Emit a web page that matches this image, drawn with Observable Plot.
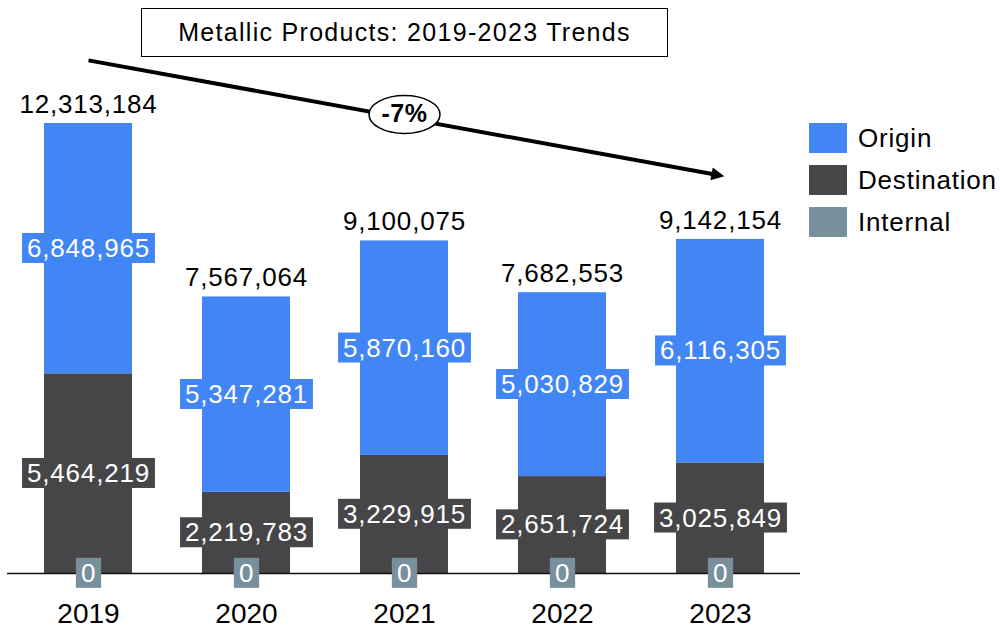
<!DOCTYPE html>
<html>
<head>
<meta charset="utf-8">
<script src="https://cdn.jsdelivr.net/npm/d3@7"></script>
<script src="https://cdn.jsdelivr.net/npm/@observablehq/plot@0.6"></script>
<style>
  html, body { margin: 0; padding: 0; background: #fff; }
  body { font-family: "Liberation Sans", Arial, sans-serif; }
  #wrap { position: relative; width: 1000px; height: 631px; overflow: hidden; }
  #chart { position: absolute; left: 0; top: 0; }
  #title {
    position: absolute; left: 141px; top: 8px; width: 527px; height: 49px;
    box-sizing: border-box; border: 1.5px solid #000; background: #fff;
    display: flex; align-items: center; justify-content: center;
    font-size: 25px; letter-spacing: 1.3px; color: #000; z-index: 2;
  }
  #legend { position: absolute; left: 809px; top: 123px; }
  .item { display: flex; align-items: center; height: 30px; margin-bottom: 12px;
          font-size: 26px; letter-spacing: 0.8px; color: #000; }
  .sw { width: 38px; height: 30px; margin-right: 11px; flex: none; }
</style>
</head>
<body>
<div id="wrap">
  <div id="chart"></div>
  <div id="title"></div>
  <div id="legend"></div>
</div>
<script>
// ---- data ----
const titleText = "Metallic Products: 2019-2023 Trends";
const years = ["2019", "2020", "2021", "2022", "2023"];
const series = ["Origin", "Destination", "Internal"];
const seriesColors = ["#4285F4", "#464648", "#78909C"];
const origin = [6848965, 5347281, 5870160, 5030829, 6116305];
const destination = [5464219, 2219783, 3229915, 2651724, 3025849];
const internal = [0, 0, 0, 0, 0];
// trend annotation (CAGR 2019 -> 2023)
const trendText = "-7%";
const trendStart = {year: "2019", value: 14040000};
const trendEnd = {year: "2023", value: 10890000};
const trendLabelAt = {year: "2021", value: 12560000};

// ---- derived table ----
const fmt = d3.format(",");
const totals = years.map((y, i) => origin[i] + destination[i] + internal[i]);
const rows = [];
years.forEach((year, i) => {
  // stack order from the baseline: Internal, Destination, Origin
  let base = 0;
  [["Internal", internal[i]], ["Destination", destination[i]], ["Origin", origin[i]]].forEach(([s, v]) => {
    rows.push({year, series: s, value: v, y1: base, y2: base + v, mid: base + v / 2});
    base += v;
  });
});
const totalRows = years.map((year, i) => ({year, total: totals[i]}));
const colorOf = Object.fromEntries(series.map((s, i) => [s, seriesColors[i]]));

document.getElementById("title").textContent = titleText;
const legend = document.getElementById("legend");
series.forEach((s, i) => {
  const it = document.createElement("div");
  it.className = "item";
  it.innerHTML = `<div class="sw" style="background:${seriesColors[i]}"></div><span>${s}</span>`;
  legend.appendChild(it);
});

const labelMarks = series.map(s =>
  Plot.text(rows.filter(r => r.series === s), {
    x: "year", y: "mid", text: d => fmt(d.value),
    fill: "#fff", fontSize: 26, ariaDescription: "label-" + s
  })
);

const plot = Plot.plot({
  width: 1000,
  height: 631,
  marginLeft: 7,
  marginRight: 200,
  marginTop: 123,
  marginBottom: 58,
  style: {fontFamily: "Liberation Sans, Arial, sans-serif", background: "transparent", overflow: "visible", color: "#000"},
  x: {domain: years, paddingInner: 0.446, paddingOuter: 0.217, label: null},
  y: {domain: [0, d3.max(totals)], axis: null},
  color: {domain: series, range: seriesColors},
  marks: [
    Plot.barY(rows.filter(r => r.value > 0), {x: "year", y1: "y1", y2: "y2", fill: "series"}),
    Plot.ruleY([0], {stroke: "#111", strokeWidth: 1.5}),
    Plot.axisX({tickSize: 0, tickPadding: 30, fontSize: 28, fill: "#000", label: null}),
    Plot.text(totalRows, {x: "year", y: "total", text: d => fmt(d.total), dy: -19, fontSize: 26, fill: "#000", ariaDescription: "totals"}),
    ...labelMarks,
    Plot.link([{x1: trendStart.year, y1: trendStart.value, x2: trendEnd.year, y2: trendEnd.value}],
      {x1: "x1", y1: "y1", x2: "x2", y2: "y2", stroke: "#000", strokeWidth: 4, ariaDescription: "trend-arrow"}),
    Plot.text([trendLabelAt], {x: "year", y: "value", text: () => trendText, fontSize: 25, fontWeight: "bold", fill: "#000", ariaDescription: "trend-label"})
  ]
});
document.getElementById("chart").appendChild(plot);

// ---- post-render decoration ----
const svg = d3.select(plot);
const ns = "http://www.w3.org/2000/svg";
svg.selectAll('g[aria-description="totals"] text').style("letter-spacing", "0.8px");
series.forEach(s => {
  svg.selectAll(`g[aria-description="label-${s}"] text`).each(function () {
    this.style.letterSpacing = "0.8px";
    const b = this.getBBox();
    const r = document.createElementNS(ns, "rect");
    r.setAttribute("x", b.x - 5);
    r.setAttribute("y", b.y);
    r.setAttribute("width", b.width + 10);
    r.setAttribute("height", b.height);
    r.setAttribute("fill", colorOf[s]);
    const t = this.getAttribute("transform");
    if (t) r.setAttribute("transform", t);
    this.parentNode.insertBefore(r, this);
  });
});
svg.selectAll('g[aria-description="trend-label"] text').each(function () {
  this.style.letterSpacing = "0.5px";
  const b = this.getBBox();
  const e = document.createElementNS(ns, "ellipse");
  e.setAttribute("cx", b.x + b.width / 2);
  e.setAttribute("cy", b.y + b.height / 2 + 1);
  e.setAttribute("rx", 35.5);
  e.setAttribute("ry", 19);
  e.setAttribute("fill", "#fff");
  e.setAttribute("stroke", "#000");
  e.setAttribute("stroke-width", 1.5);
  const t = this.getAttribute("transform");
  if (t) e.setAttribute("transform", t);
  this.parentNode.insertBefore(e, this);
});
const defs = svg.append("defs");
defs.append("marker")
  .attr("id", "arrowhead")
  .attr("viewBox", "0 0 10 10")
  .attr("refX", 7).attr("refY", 5)
  .attr("markerUnits", "userSpaceOnUse")
  .attr("markerWidth", 15).attr("markerHeight", 13)
  .attr("orient", "auto")
  .append("path").attr("d", "M0,0L10,5L0,10Z").attr("fill", "#000");
svg.selectAll('g[aria-description="trend-arrow"] path').attr("marker-end", "url(#arrowhead)");
</script>
</body>
</html>
